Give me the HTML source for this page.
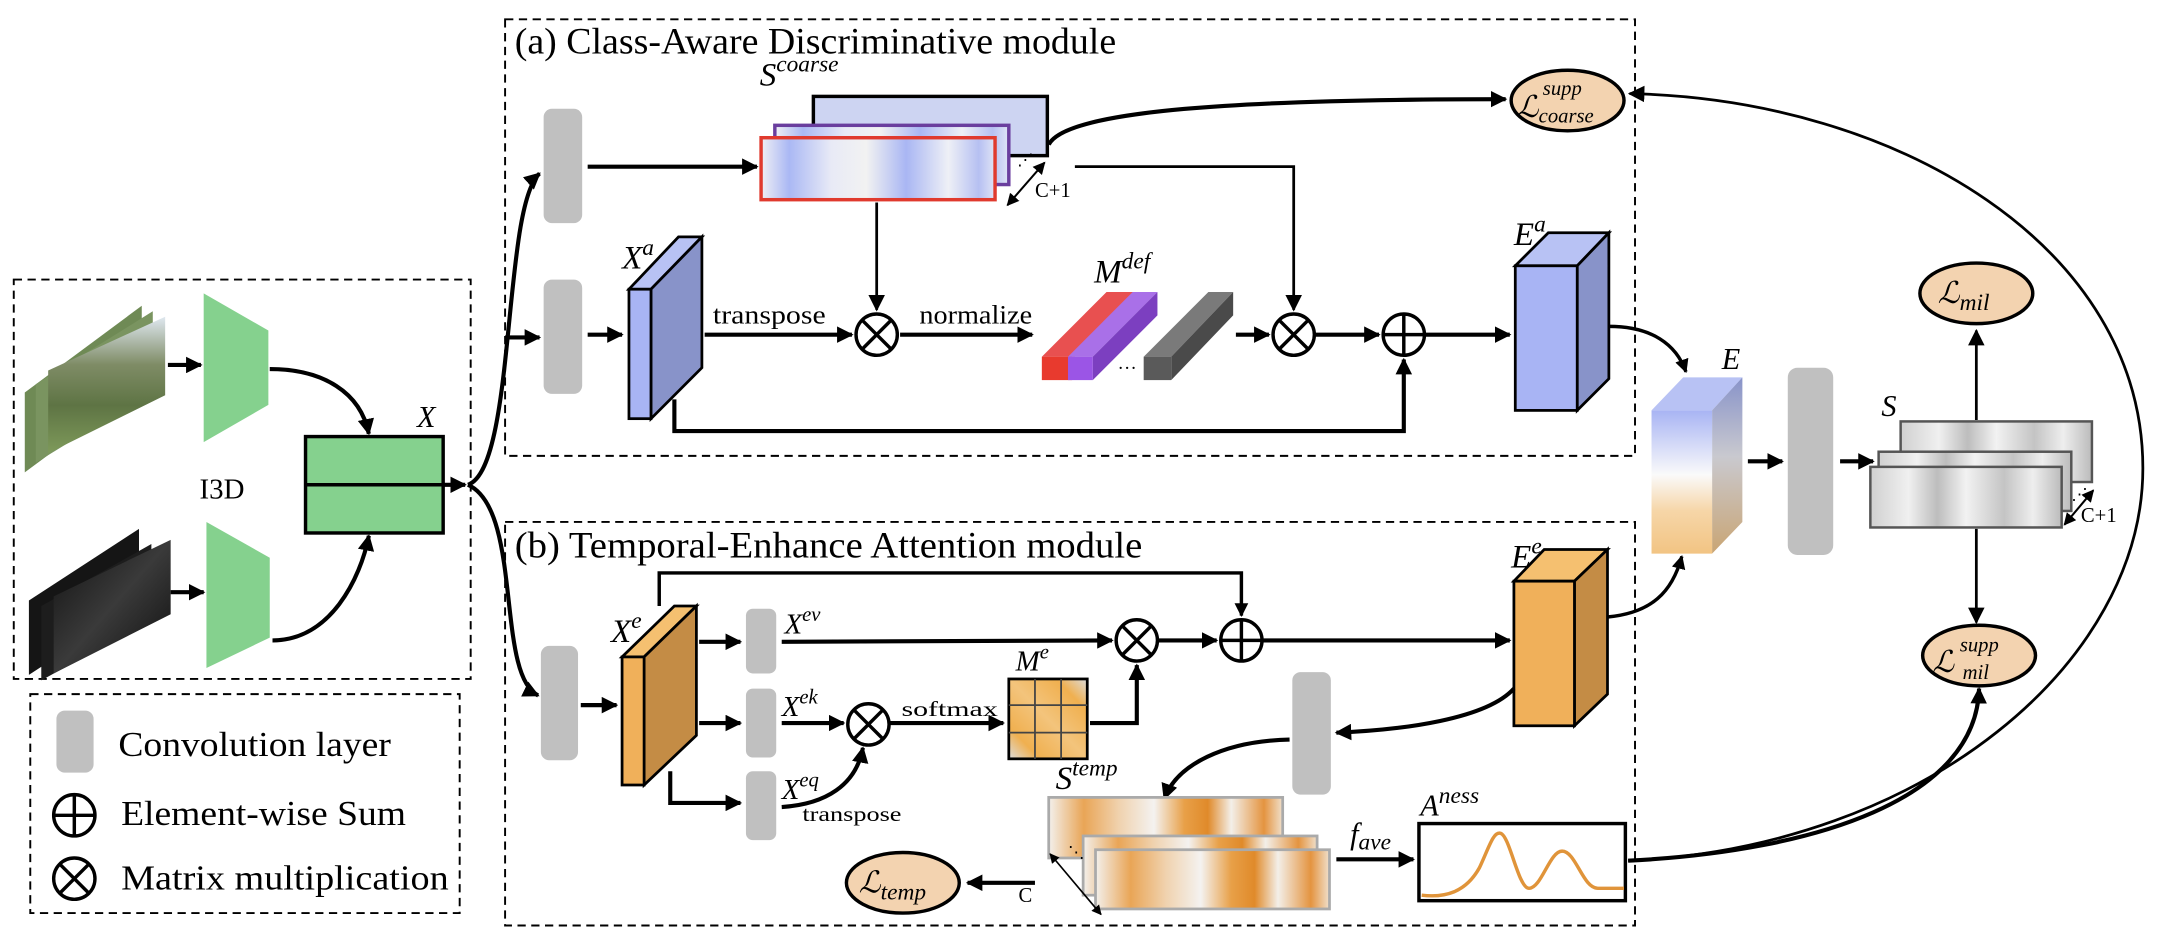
<!DOCTYPE html>
<html><head><meta charset="utf-8"><style>
html,body{margin:0;padding:0;background:#fff;}
svg{display:block;}
text{font-family:"Liberation Serif","DejaVu Serif",serif;}
.m{font-style:italic;}
</style></head><body>
<svg width="2158" height="942" viewBox="0 0 1568 684" preserveAspectRatio="none" xmlns="http://www.w3.org/2000/svg">
<defs>
<marker id="a" viewBox="0 0 10 10" refX="9" refY="5" markerWidth="4" markerHeight="4" orient="auto-start-reverse" markerUnits="strokeWidth"><path d="M0,0 L10,5 L0,10 z" fill="#000"/></marker>
<marker id="b" viewBox="0 0 10 10" refX="9" refY="5" markerWidth="6" markerHeight="6" orient="auto-start-reverse" markerUnits="strokeWidth"><path d="M0,0 L10,5 L0,10 z" fill="#000"/></marker>
<linearGradient id="blueS" x1="0" x2="1"><stop offset="0" stop-color="#f0f0f4"/><stop offset=".12" stop-color="#aab8f4"/><stop offset=".3" stop-color="#e8eaf6"/><stop offset=".45" stop-color="#f2f2f2"/><stop offset=".62" stop-color="#a9b6f3"/><stop offset=".8" stop-color="#eef0f6"/><stop offset=".93" stop-color="#b6c0f2"/><stop offset="1" stop-color="#e0e4f6"/></linearGradient>
<linearGradient id="oraS" x1="0" x2="1"><stop offset="0" stop-color="#f3f0ec"/><stop offset=".15" stop-color="#e9a556"/><stop offset=".3" stop-color="#f0d2ae"/><stop offset=".45" stop-color="#f4f2f0"/><stop offset=".58" stop-color="#e8a048"/><stop offset=".68" stop-color="#e08a2a"/><stop offset=".78" stop-color="#f3efe9"/><stop offset=".92" stop-color="#e49440"/><stop offset="1" stop-color="#f0e0cc"/></linearGradient>
<linearGradient id="grayS" x1="0" x2="1"><stop offset="0" stop-color="#d0d0d0"/><stop offset=".2" stop-color="#f0f0f0"/><stop offset=".35" stop-color="#bdbdbd"/><stop offset=".5" stop-color="#f2f2f2"/><stop offset=".7" stop-color="#c4c4c4"/><stop offset=".85" stop-color="#eeeeee"/><stop offset="1" stop-color="#bbbbbb"/></linearGradient>
<linearGradient id="Ef" x1="0" y1="0" x2="0" y2="1"><stop offset="0" stop-color="#a8b4f4"/><stop offset=".45" stop-color="#fafafa"/><stop offset=".7" stop-color="#f6d6a8"/><stop offset="1" stop-color="#f2c483"/></linearGradient>
<linearGradient id="Es" x1="0" y1="0" x2="0" y2="1"><stop offset="0" stop-color="#8893c9"/><stop offset=".45" stop-color="#c9c9cf"/><stop offset="1" stop-color="#c9a574"/></linearGradient>
<linearGradient id="vid" x1="0" y1="0" x2="0" y2="1"><stop offset="0" stop-color="#dfe8f0"/><stop offset=".35" stop-color="#7f8c66"/><stop offset=".65" stop-color="#5e7444"/><stop offset="1" stop-color="#7e9a5a"/></linearGradient>
<linearGradient id="flow" x1="0" y1="0" x2="1" y2="1"><stop offset="0" stop-color="#111"/><stop offset=".5" stop-color="#3a3a3a"/><stop offset="1" stop-color="#0d0d0d"/></linearGradient>
<linearGradient id="mgd" x1="0" y1="1" x2="1" y2="0"><stop offset="0" stop-color="#dcdcdc"/><stop offset=".2" stop-color="#f0b050"/><stop offset=".5" stop-color="#f3c47c"/><stop offset=".8" stop-color="#f0b050"/><stop offset="1" stop-color="#dcdcdc"/></linearGradient>
</defs>

<g fill="none" stroke="#000" stroke-width="1.4" stroke-dasharray="6,4">
<rect x="10" y="203" width="332" height="290"/>
<rect x="22" y="504" width="312" height="159"/>
<rect x="367" y="14" width="821" height="317"/>
<rect x="367" y="379" width="821" height="293"/>
</g>

<g>
<polygon points="18,285 103,222 103,280 18,343" fill="#6f8a55"/>
<polygon points="26,279 111,226 111,284 26,336" fill="#7a9460"/>
<polygon points="35,269 120,230 120,287 35,329" fill="url(#vid)"/>
<polygon points="21,436 101,384 101,438 21,490" fill="#151515"/>
<polygon points="30,440 110,395 110,450 30,494" fill="#1d1d1d"/>
<polygon points="39,433 124,392 124,446 39,489" fill="url(#flow)"/>
</g>
<polygon points="148,213 195,240 195,294 148,321" fill="#85d18e"/>
<polygon points="150,379 196,405 196,463 150,485" fill="#85d18e"/>
<g stroke="#000" stroke-width="3" fill="none">
<line x1="122" y1="265" x2="146" y2="265" marker-end="url(#a)"/>
<line x1="124" y1="430" x2="148" y2="430" marker-end="url(#a)"/>
<path d="M196,268 C235,268 262,285 268,315" marker-end="url(#a)"/>
<path d="M198,465 C240,465 262,420 268,389" marker-end="url(#a)"/>
</g>
<text x="145" y="362" font-family="Liberation Mono,monospace" font-size="21">I3D</text>
<rect x="222" y="317" width="100" height="70" fill="#85d18e" stroke="#000" stroke-width="2.5"/>
<line x1="222" y1="352" x2="322" y2="352" stroke="#000" stroke-width="2.5"/>
<text x="303" y="310" class="m" font-size="22">X</text>
<g stroke="#000" stroke-width="3" fill="none">
<line x1="322" y1="352" x2="338" y2="352" marker-end="url(#a)"/>
<path d="M340,352 C375,340 365,150 392,126" marker-end="url(#a)"/>
<path d="M340,352 C380,370 360,490 391,505" marker-end="url(#a)"/>
</g>
<line x1="367" y1="245" x2="392" y2="245" stroke="#000" stroke-width="3" marker-end="url(#a)"/>

<rect x="41" y="516" width="27" height="45" rx="6" fill="#c0c0c0"/>
<text x="86" y="549" font-size="25" textLength="198" lengthAdjust="spacingAndGlyphs">Convolution layer</text>
<circle cx="54" cy="592" r="15" fill="none" stroke="#000" stroke-width="2.5"/>
<line x1="39" y1="592" x2="69" y2="592" stroke="#000" stroke-width="2.5"/><line x1="54" y1="577" x2="54" y2="607" stroke="#000" stroke-width="2.5"/>
<text x="88" y="599" font-size="25" textLength="207" lengthAdjust="spacingAndGlyphs">Element-wise Sum</text>
<circle cx="54" cy="638" r="15" fill="none" stroke="#000" stroke-width="2.5"/>
<path d="M43.4,627.4 L64.6,648.6 M64.6,627.4 L43.4,648.6" stroke="#000" stroke-width="2.5"/>
<text x="88" y="646" font-size="25" textLength="238" lengthAdjust="spacingAndGlyphs">Matrix multiplication</text>

<text x="374" y="39" font-size="27" textLength="437" lengthAdjust="spacingAndGlyphs">(a) Class-Aware Discriminative module</text>
<rect x="395" y="79" width="28" height="83" rx="6" fill="#c0c0c0"/>
<rect x="395" y="203" width="28" height="83" rx="6" fill="#c0c0c0"/>
<line x1="427" y1="121" x2="550" y2="121" stroke="#000" stroke-width="3" marker-end="url(#a)"/>
<text x="552" y="62" class="m" font-size="24">S<tspan font-size="17" dy="-10">coarse</tspan></text>
<rect x="591" y="70" width="170" height="43" fill="#cdd4f2" stroke="#000" stroke-width="2.5"/>
<rect x="563" y="91" width="170" height="43" fill="url(#blueS)" stroke="#6a3e9e" stroke-width="2.5"/>
<rect x="553" y="100" width="170" height="45" fill="url(#blueS)" stroke="#e03a2e" stroke-width="2.5"/>
<line x1="732" y1="149" x2="759" y2="118" stroke="#000" stroke-width="1.5" marker-start="url(#b)" marker-end="url(#b)"/>
<text x="739" y="120" font-size="12">⋰</text>
<text x="752" y="143" font-family="DejaVu Sans,sans-serif" font-size="15">C+1</text>
<path d="M762,105 C775,80 900,72 1094,72" stroke="#000" stroke-width="3" fill="none" marker-end="url(#a)"/>
<g stroke="#000" stroke-width="2" fill="none">
<line x1="637" y1="147" x2="637" y2="225" marker-end="url(#b)"/>
<path d="M781,121 L940,121 L940,225" marker-end="url(#b)"/>
</g>
<polygon points="457,210 473,210 510,172 493,172" fill="#b8c2f4" stroke="#000" stroke-width="2"/>
<polygon points="473,210 510,172 510,267 473,304" fill="#8893c9" stroke="#000" stroke-width="2"/>
<rect x="457" y="210" width="16" height="94" fill="#a8b4f4" stroke="#000" stroke-width="2"/>
<text x="452" y="195" class="m" font-size="24">X<tspan font-size="17" dy="-10">a</tspan></text>
<line x1="427" y1="243" x2="452" y2="243" stroke="#000" stroke-width="3" marker-end="url(#a)"/>
<text x="518" y="235" font-size="19" textLength="82" lengthAdjust="spacingAndGlyphs">transpose</text>
<line x1="512" y1="243" x2="619" y2="243" stroke="#000" stroke-width="3" marker-end="url(#a)"/>
<circle cx="637" cy="243" r="15" fill="#fff" stroke="#000" stroke-width="2.5"/><path d="M626.4,232.4 L647.6,253.6 M647.6,232.4 L626.4,253.6" stroke="#000" stroke-width="2.5"/>
<text x="668" y="235" font-size="19" textLength="82" lengthAdjust="spacingAndGlyphs">normalize</text>
<line x1="654" y1="243" x2="750" y2="243" stroke="#000" stroke-width="3" marker-end="url(#a)"/>
<polygon points="757,259 804,212 828,212 781,259" fill="#e85050"/>
<rect x="757" y="259" width="22" height="17" fill="#e83a2e"/>
<polygon points="776,259 823,212 841,212 794,259" fill="#a970e8"/>
<polygon points="794,259 841,212 841,229 794,276" fill="#7c3fc0"/>
<rect x="776" y="259" width="18" height="17" fill="#9b55e6"/>
<polygon points="831,259 878,212 896,212 851,259" fill="#7a7a7a"/>
<polygon points="851,259 896,212 896,229 851,276" fill="#4a4a4a"/>
<rect x="831" y="259" width="20" height="17" fill="#5a5a5a"/>
<text x="812" y="268" font-size="14">…</text>
<text x="795" y="205" class="m" font-size="24">M<tspan font-size="17" dy="-10">def</tspan></text>
<line x1="898" y1="243" x2="922" y2="243" stroke="#000" stroke-width="3" marker-end="url(#a)"/>
<circle cx="940" cy="243" r="15" fill="#fff" stroke="#000" stroke-width="2.5"/><path d="M929.4,232.4 L950.6,253.6 M950.6,232.4 L929.4,253.6" stroke="#000" stroke-width="2.5"/>
<line x1="956" y1="243" x2="1002" y2="243" stroke="#000" stroke-width="3" marker-end="url(#a)"/>
<circle cx="1020" cy="243" r="15" fill="#fff" stroke="#000" stroke-width="2.5"/><path d="M1005,243 L1035,243 M1020,228 L1020,258" stroke="#000" stroke-width="2.5"/>
<line x1="1036" y1="243" x2="1097" y2="243" stroke="#000" stroke-width="3" marker-end="url(#a)"/>
<path d="M490,290 L490,313 L1020,313 L1020,261" stroke="#000" stroke-width="3" fill="none" marker-end="url(#a)"/>
<polygon points="1101,193 1146,193 1169,169 1125,169" fill="#b8c2f4" stroke="#000" stroke-width="2"/>
<polygon points="1146,193 1169,169 1169,275 1146,298" fill="#8893c9" stroke="#000" stroke-width="2"/>
<rect x="1101" y="193" width="45" height="105" fill="#a8b4f4" stroke="#000" stroke-width="2"/>
<text x="1100" y="178" class="m" font-size="24">E<tspan font-size="17" dy="-10">a</tspan></text>
<ellipse cx="1139" cy="73" rx="41" ry="22" fill="#f3d3b0" stroke="#000" stroke-width="2.5"/>
<text x="1102" y="85" class="m" font-size="22">ℒ</text>
<text x="1121" y="69" class="m" font-size="15">supp</text>
<text x="1118" y="89" class="m" font-size="15">coarse</text>

<polygon points="1200,298 1244,298 1266,274 1223,274" fill="#b8c2f4"/>
<polygon points="1244,298 1266,274 1266,379 1244,402" fill="url(#Es)"/>
<rect x="1200" y="298" width="44" height="104" fill="url(#Ef)"/>
<text x="1251" y="268" class="m" font-size="22">E</text>
<path d="M1169,237 C1200,237 1218,250 1225,270" stroke="#000" stroke-width="2.5" fill="none" marker-end="url(#a)"/>
<path d="M1168,448 C1200,445 1215,430 1222,404" stroke="#000" stroke-width="2.5" fill="none" marker-end="url(#a)"/>
<rect x="1299" y="267" width="33" height="136" rx="7" fill="#c0c0c0"/>
<line x1="1270" y1="335" x2="1295" y2="335" stroke="#000" stroke-width="3" marker-end="url(#a)"/>
<line x1="1337" y1="335" x2="1361" y2="335" stroke="#000" stroke-width="3" marker-end="url(#a)"/>
<rect x="1381" y="306" width="139" height="44" fill="url(#grayS)" stroke="#555" stroke-width="1.8"/>
<rect x="1365" y="328" width="140" height="43" fill="url(#grayS)" stroke="#555" stroke-width="1.8"/>
<rect x="1359" y="339" width="139" height="44" fill="url(#grayS)" stroke="#555" stroke-width="1.8"/>
<text x="1367" y="302" class="m" font-size="22">S</text>
<line x1="1500" y1="381" x2="1521" y2="356" stroke="#000" stroke-width="1.5" marker-start="url(#b)" marker-end="url(#b)"/>
<text x="1505" y="363" font-size="12">⋰</text>
<text x="1512" y="379" font-family="DejaVu Sans,sans-serif" font-size="15">C+1</text>
<line x1="1436" y1="305" x2="1436" y2="240" stroke="#000" stroke-width="2" marker-end="url(#b)"/>
<line x1="1436" y1="384" x2="1436" y2="452" stroke="#000" stroke-width="2" marker-end="url(#b)"/>
<ellipse cx="1436" cy="213" rx="41" ry="22" fill="#f3d3b0" stroke="#000" stroke-width="2.5"/>
<text x="1408" y="220" class="m" font-size="22">ℒ<tspan font-size="17" dy="5">mil</tspan></text>
<ellipse cx="1438" cy="476" rx="41" ry="22" fill="#f3d3b0" stroke="#000" stroke-width="2.5"/>
<text x="1404" y="488" class="m" font-size="22">ℒ</text>
<text x="1424" y="473" class="m" font-size="15">supp</text>
<text x="1426" y="493" class="m" font-size="15">mil</text>
<path d="M1183,625 C1320,618 1436,580 1438,500" stroke="#000" stroke-width="3" fill="none" marker-end="url(#a)"/>
<path d="M1183,625 C1400,615 1557,480 1557,340 C1557,180 1380,72 1184,68" stroke="#000" stroke-width="2" fill="none" marker-end="url(#b)"/>

<text x="374" y="405" font-size="27" textLength="456" lengthAdjust="spacingAndGlyphs">(b) Temporal-Enhance Attention module</text>
<rect x="393" y="469" width="27" height="83" rx="6" fill="#c0c0c0"/>
<line x1="422" y1="512" x2="448" y2="512" stroke="#000" stroke-width="3" marker-end="url(#a)"/>
<polygon points="452,477 468,477 506,440 490,440" fill="#f5c070" stroke="#000" stroke-width="2"/>
<polygon points="468,477 506,440 506,534 468,570" fill="#c48c45" stroke="#000" stroke-width="2"/>
<rect x="452" y="477" width="16" height="93" fill="#f0b05a" stroke="#000" stroke-width="2"/>
<text x="444" y="466" class="m" font-size="24">X<tspan font-size="17" dy="-10">e</tspan></text>
<path d="M479,440 L479,416 L902,416 L902,447" stroke="#000" stroke-width="2.5" fill="none" marker-end="url(#a)"/>
<rect x="542" y="442" width="22" height="47" rx="5" fill="#c0c0c0"/>
<rect x="542" y="500" width="22" height="50" rx="5" fill="#c0c0c0"/>
<rect x="542" y="560" width="22" height="50" rx="5" fill="#c0c0c0"/>
<line x1="508" y1="466" x2="538" y2="466" stroke="#000" stroke-width="3" marker-end="url(#a)"/>
<line x1="508" y1="525" x2="538" y2="525" stroke="#000" stroke-width="3" marker-end="url(#a)"/>
<path d="M487,560 L487,583 L538,583" stroke="#000" stroke-width="3" fill="none" marker-end="url(#a)"/>
<text x="570" y="460" class="m" font-size="21">X<tspan font-size="15" dy="-9">ev</tspan></text>
<text x="568" y="520" class="m" font-size="21">X<tspan font-size="15" dy="-9">ek</tspan></text>
<text x="568" y="580" class="m" font-size="21">X<tspan font-size="15" dy="-9">eq</tspan></text>
<text x="583" y="596" font-size="15" textLength="72" lengthAdjust="spacingAndGlyphs">transpose</text>
<line x1="568" y1="466" x2="808" y2="465" stroke="#000" stroke-width="3" marker-end="url(#a)"/>
<line x1="568" y1="525" x2="613" y2="525" stroke="#000" stroke-width="3" marker-end="url(#a)"/>
<path d="M568,586 C600,584 622,570 627,543" stroke="#000" stroke-width="3" fill="none" marker-end="url(#a)"/>
<circle cx="631" cy="526" r="15" fill="#fff" stroke="#000" stroke-width="2.5"/><path d="M620.4,515.4 L641.6,536.6 M641.6,515.4 L620.4,536.6" stroke="#000" stroke-width="2.5"/>
<text x="655" y="520" font-size="15" textLength="70" lengthAdjust="spacingAndGlyphs">softmax</text>
<line x1="647" y1="525" x2="729" y2="525" stroke="#000" stroke-width="3" marker-end="url(#a)"/>
<rect x="733" y="493" width="57" height="58" fill="url(#mgd)" stroke="#000" stroke-width="2"/>
<g stroke="#444" stroke-width="1.3"><line x1="752" y1="493" x2="752" y2="551"/><line x1="771" y1="493" x2="771" y2="551"/><line x1="733" y1="512" x2="790" y2="512"/><line x1="733" y1="532" x2="790" y2="532"/></g>
<text x="738" y="487" class="m" font-size="21">M<tspan font-size="15" dy="-9">e</tspan></text>
<path d="M792,525 L826,525 L826,483" stroke="#000" stroke-width="3" fill="none" marker-end="url(#a)"/>
<circle cx="826" cy="465" r="15" fill="#fff" stroke="#000" stroke-width="2.5"/><path d="M815.4,454.4 L836.6,475.6 M836.6,454.4 L815.4,475.6" stroke="#000" stroke-width="2.5"/>
<line x1="842" y1="465" x2="884" y2="465" stroke="#000" stroke-width="3" marker-end="url(#a)"/>
<circle cx="902" cy="465" r="15" fill="#fff" stroke="#000" stroke-width="2.5"/><path d="M887,465 L917,465 M902,450 L902,480" stroke="#000" stroke-width="2.5"/>
<line x1="918" y1="465" x2="1097" y2="465" stroke="#000" stroke-width="3" marker-end="url(#a)"/>
<polygon points="1100,422 1144,422 1168,399 1122,399" fill="#f5c070" stroke="#000" stroke-width="2"/>
<polygon points="1144,422 1168,399 1168,504 1144,527" fill="#c48c45" stroke="#000" stroke-width="2"/>
<rect x="1100" y="422" width="44" height="105" fill="#f0b05a" stroke="#000" stroke-width="2"/>
<text x="1098" y="412" class="m" font-size="24">E<tspan font-size="17" dy="-10">e</tspan></text>
<rect x="939" y="488" width="28" height="89" rx="6" fill="#c0c0c0"/>
<path d="M1100,500 C1080,522 1020,530 971,532" stroke="#000" stroke-width="3" fill="none" marker-end="url(#a)"/>
<path d="M937,537 C890,538 855,555 846,580" stroke="#000" stroke-width="3" fill="none" marker-end="url(#a)"/>
<rect x="762" y="579" width="170" height="44" fill="url(#oraS)" stroke="#aaa" stroke-width="2"/>
<rect x="787" y="607" width="170" height="43" fill="url(#oraS)" stroke="#aaa" stroke-width="2"/>
<rect x="796" y="617" width="170" height="43" fill="url(#oraS)" stroke="#aaa" stroke-width="2"/>
<text x="767" y="573" class="m" font-size="24">S<tspan font-size="17" dy="-10">temp</tspan></text>
<line x1="763" y1="620" x2="800" y2="664" stroke="#000" stroke-width="1.2" marker-start="url(#b)" marker-end="url(#b)"/>
<text x="776" y="623" font-size="12">⋱</text>
<text x="740" y="655" font-family="DejaVu Sans,sans-serif" font-size="15">C</text>
<line x1="752" y1="641" x2="703" y2="641" stroke="#000" stroke-width="3" marker-end="url(#a)"/>
<ellipse cx="656" cy="641" rx="41" ry="22" fill="#f3d3b0" stroke="#000" stroke-width="2.5"/>
<text x="624" y="648" class="m" font-size="22">ℒ<tspan font-size="17" dy="5">temp</tspan></text>
<text x="981" y="613" class="m" font-size="22">f<tspan font-size="17" dy="4">ave</tspan></text>
<line x1="971" y1="624" x2="1027" y2="624" stroke="#000" stroke-width="3" marker-end="url(#a)"/>
<text x="1032" y="592" class="m" font-size="22">A<tspan font-size="17" dy="-9">ness</tspan></text>
<rect x="1031" y="598" width="150" height="56" fill="#fff" stroke="#000" stroke-width="2.5"/>
<path d="M1033,650 C1050,652 1065,648 1075,630 C1082,615 1085,604 1090,605 C1097,606 1103,645 1111,645 C1120,645 1126,618 1135,618 C1145,618 1150,645 1161,645 L1180,645" stroke="#e0943a" stroke-width="2.5" fill="none"/>
</svg>
</body></html>
